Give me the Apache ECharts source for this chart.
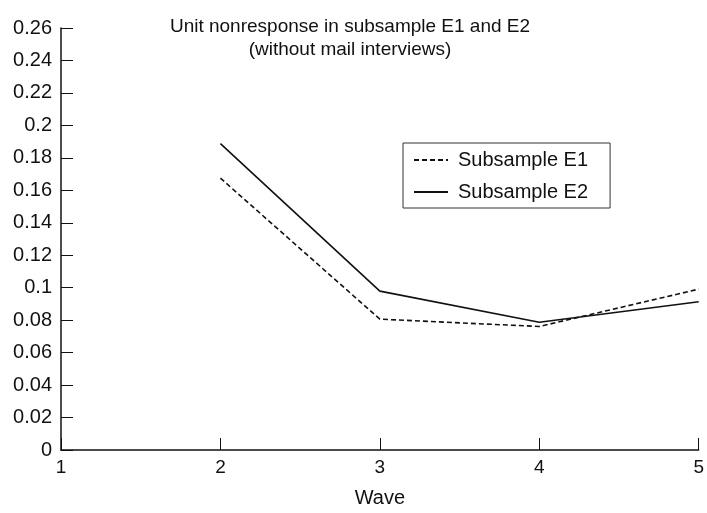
<!DOCTYPE html>
<html>
<head>
<meta charset="utf-8">
<script src="https://cdn.jsdelivr.net/npm/echarts@6/dist/echarts.min.js"></script>
<style>html,body{margin:0;padding:0;background:#fff}#c{width:707px;height:513px}</style>
</head>
<body>
<div id="c"></div>
<script>
const waves = [2, 3, 4, 5];
const e1 = [0.1675, 0.0806, 0.0761, 0.0991];
const e2 = [0.1888, 0.0979, 0.0787, 0.0913];
const seriesNames = ['Subsample E1', 'Subsample E2'];
const titleLines = ['Unit nonresponse in subsample E1 and E2', '(without mail interviews)'];

const font = 'Liberation Sans, Arial, Helvetica, sans-serif';
const ink = '#111';
const chart = echarts.init(document.getElementById('c'));
chart.setOption({
  animation: false,
  backgroundColor: '#fff',
  textStyle: { fontFamily: font },
  title: {
    text: titleLines.join('\n'),
    left: 345, top: 10, textAlign: 'center',
    textStyle: { fontFamily: font, fontSize: 19, fontWeight: 'normal', color: ink, lineHeight: 23 }
  },
  legend: {
    orient: 'vertical', left: 403, top: 143,
    padding: [7, 22, 6, 10],
    itemGap: 12,
    itemWidth: 34, itemHeight: 14,
    borderColor: '#333', borderWidth: 1,
    itemStyle: { color: 'rgba(0,0,0,0)', borderColor: 'rgba(0,0,0,0)', borderWidth: 0 },
    textStyle: { fontFamily: font, fontSize: 20, color: ink, lineHeight: 20, padding: [0, 0, 0, 5] },
    data: seriesNames
  },
  grid: { left: 61, right: 5, top: 28, bottom: 58, containLabel: false },
  xAxis: {
    type: 'value', min: 1, max: 5, interval: 1,
    name: 'Wave', nameLocation: 'middle', nameGap: 38,
    nameTextStyle: { fontFamily: font, fontSize: 20, color: ink },
    axisLine: { lineStyle: { color: ink, width: 1.5 } },
    axisTick: { inside: true, length: 12, lineStyle: { color: ink } },
    axisLabel: { fontFamily: font, fontSize: 19, color: ink, margin: 8 },
    splitLine: { show: false }
  },
  yAxis: {
    type: 'value', min: 0, max: 0.26, interval: 0.02,
    axisLine: { show: true, lineStyle: { color: ink, width: 1.5 } },
    axisTick: { show: true, inside: true, length: 12, lineStyle: { color: ink } },
    axisLabel: { fontFamily: font, fontSize: 20, color: ink, margin: 9 },
    splitLine: { show: false }
  },
  series: [
    {
      name: seriesNames[0], type: 'line', symbol: 'none',
      data: waves.map((w, i) => [w, e1[i]]),
      lineStyle: { color: ink, width: 1.6, type: [5, 3] },
      itemStyle: { color: ink }
    },
    {
      name: seriesNames[1], type: 'line', symbol: 'none',
      data: waves.map((w, i) => [w, e2[i]]),
      lineStyle: { color: ink, width: 1.6 },
      itemStyle: { color: ink }
    }
  ]
});
</script>
</body>
</html>
